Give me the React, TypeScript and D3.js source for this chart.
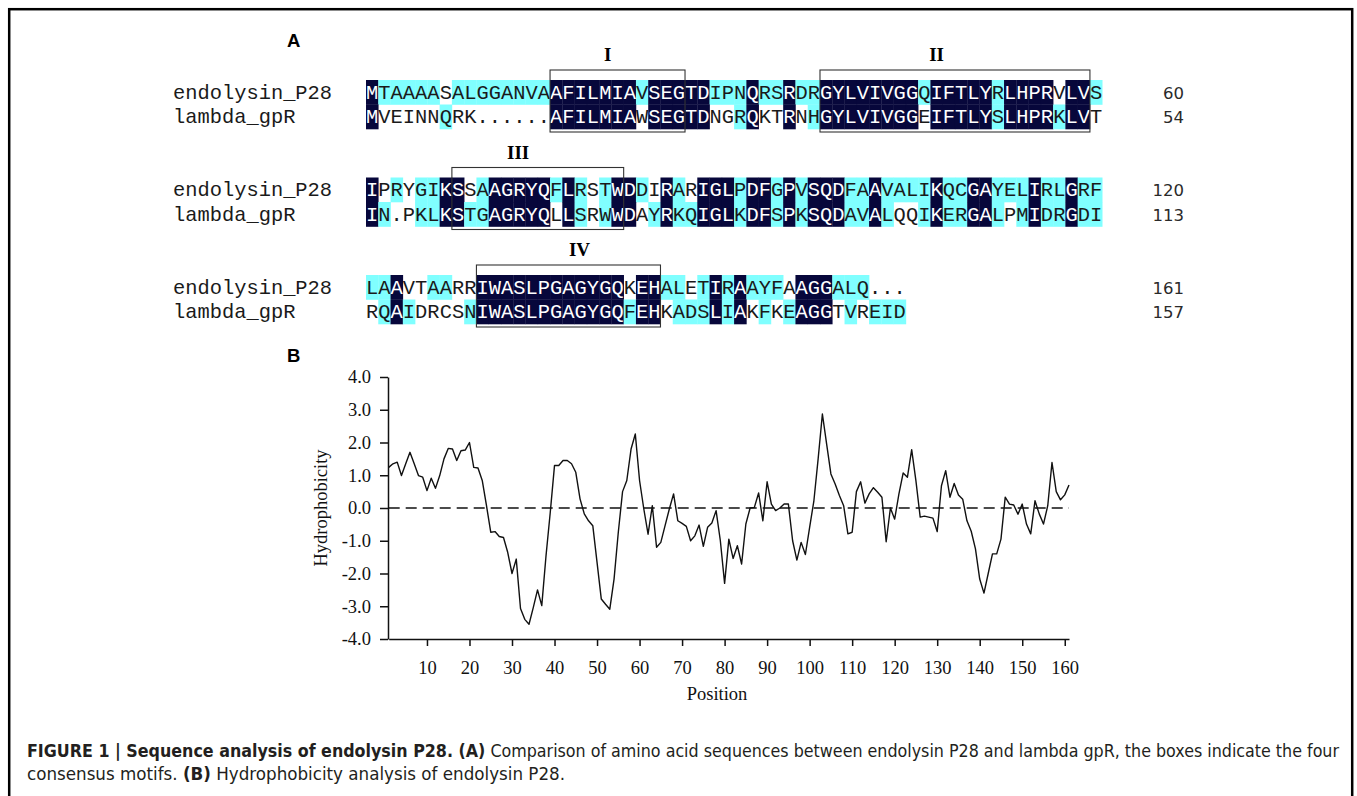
import React, { useEffect, useRef } from 'react';
import * as d3 from 'd3';

// alignment, one string per block (60 columns per block)
const endolysinSeq = [
  'MTAAAASALGGANVAAFILMIAVSEGTDIPNQRSRDRGYLVIVGGQIFTLYRLHPRVLVS',
  'IPRYGIKSSAAGRYQFLRSTWDDIRARIGLPDFGPVSQDFAAVALIKQCGAYELIRLGRF',
  'LAAVTAARRIWASLPGAGYGQKEHALETIRAAYFAAGGALQ...',
];
const lambdaSeq = [
  'MVEINNQRK......AFILMIAWSEGTDNGRQKTRNHGYLVIVGGEIFTLYSLHPRKLVT',
  'IN.PKLKSTGAGRYQLLSRWWDAYRKQIGLKDFSPKSQDAVALQQIKERGALPMIDRGDI',
  'RQAIDRCSNIWASLPGAGYGQFEHKADSLIAKFKEAGGTVREID',
];
// d = identical (dark), c = similar (cyan), w = none
const endolysinShade = [
  'dcccccwccccccccdddddddcdddddcccdccdccddddddddcdddddcddddwddc',
  'dwcwccddwcdddddcdcwcddcwdcwdddcddcdcdddccdccccdccddcccdccdcc',
  'ccdwwccwwddddddddddddwddccwcdcdcccwdddcccwww',
];
const lambdaShade = [
  'dwwwwwcwwwwwwwwdddddddwdddddwwcdwwdwcddddddddwdddddcddddcddw',
  'dcwwccddccdddddwdcwcddwcdccdddcddcdcdddccdcwwcdccddcwcdccdcc',
  'wcdcwwwwcddddddddddddcddwcccdcdwcwcdddwcwccc',
];
const rowNames = ['endolysin_P28', 'lambda_gpR'];
const endolysinEnds = [60, 120, 161];
const lambdaEnds = [54, 113, 157];

const motifs = [
  { label: 'I', block: 0, from: 16, to: 26, labelCol: 19.7 },
  { label: 'II', block: 0, from: 38, to: 59, labelCol: 46.5 },
  { label: 'III', block: 1, from: 8, to: 21, labelCol: 12.4 },
  { label: 'IV', block: 2, from: 10, to: 24, labelCol: 17.4 },
];

// hydrophobicity profile, positions 1..161
const hydrophobicity = [
  1.24, 1.35, 1.4, 0.99, 1.35, 1.7, 1.35, 0.99, 0.94, 0.53,
  0.91, 0.6, 0.99, 1.5, 1.82, 1.8, 1.45, 1.75, 1.77, 2.0,
  1.24, 1.22, 0.84, 0.07, -0.74, -0.72, -0.87, -0.9, -1.36, -2.0,
  -1.56, -3.07, -3.4, -3.55, -3.04, -2.5, -2.98, -1.46, -0.13, 1.3,
  1.3, 1.45, 1.45, 1.35, 1.09, 0.28, -0.18, -0.39, -0.54, -1.66,
  -2.78, -2.94, -3.09, -2.17, -0.74, 0.5, 0.84, 1.8, 2.26, 0.84,
  -0.03, -0.8, 0.07, -1.2, -1.05, -0.54, -0.03, 0.43, -0.39, -0.47,
  -0.56, -1.0, -0.85, -0.52, -1.17, -0.59, -0.46, -0.08, -1.0, -2.3,
  -0.95, -1.54, -1.15, -1.71, -0.49, 0.0, 0.02, 0.46, -0.39, 0.8,
  0.12, -0.08, 0.0, 0.12, 0.12, -1.0, -1.59, -1.05, -1.42, -0.59,
  0.22, 1.5, 2.87, 1.95, 1.04, 0.73, 0.38, 0.07, -0.79, -0.74,
  0.5, 0.8, 0.15, 0.43, 0.62, 0.48, 0.33, -1.03, 0.0, -0.34,
  0.43, 1.07, 0.94, 1.78, 0.83, -0.28, -0.25, -0.28, -0.31, -0.72,
  0.68, 1.14, 0.33, 0.75, 0.4, 0.27, -0.39, -0.71, -1.25, -2.17,
  -2.6, -2.0, -1.4, -1.4, -0.95, 0.33, 0.12, 0.09, -0.19, 0.12,
  -0.49, -0.79, 0.22, -0.18, -0.49, 0.07, 1.39, 0.5, 0.25, 0.4,
  0.7,
];
const xTicks = d3.range(10, 161, 10);
const yTicks = d3.range(-4, 5, 1);

const captionBold = 'FIGURE 1 | Sequence analysis of endolysin P28.';
const captionLine1 = ' Comparison of amino acid sequences between endolysin P28 and lambda gpR, the boxes indicate the four';
const captionLine2 = ' Hydrophobicity analysis of endolysin P28.';

const W = 1357;
const H = 796;
const DARK = '#07073b';
const CYAN = '#80ffff';
const mono = '"Liberation Mono", "Courier New", monospace';
const serif = '"Liberation Serif", "Times New Roman", serif';
const sans = '"Liberation Sans", Arial, sans-serif';

export default function App() {
  const xAxisRef = useRef<SVGGElement>(null);
  const yAxisRef = useRef<SVGGElement>(null);

  const col = d3.scaleLinear().domain([0, 60]).range([366, 366 + 60 * 12.27]);
  const blockTop = d3.scaleLinear().domain([0, 1]).range([80, 177.5]);
  const cellH = 24.5;

  const x = d3.scaleLinear().domain([1, 161]).range([388.7, 1069]);
  const y = d3.scaleLinear().domain([-4, 4]).range([639, 377]);
  const line = d3.line<number>().x((d, i) => x(i + 1)).y(d => y(d));

  useEffect(() => {
    const gx = d3.select(xAxisRef.current);
    gx.call(d3.axisBottom(x).tickValues(xTicks).tickSize(7).tickSizeOuter(0).tickPadding(15).tickFormat(d3.format('d')) as any);
    gx.attr('font-family', serif).attr('font-size', 18.5);
    gx.selectAll('path,line').attr('stroke', '#111').attr('stroke-width', 1.5);
    gx.selectAll('text').attr('fill', '#111');

    const gy = d3.select(yAxisRef.current);
    gy.call(d3.axisLeft(y).tickValues(yTicks).tickSize(8).tickSizeOuter(0).tickPadding(9).tickFormat(v => (+v).toFixed(1)) as any);
    gy.attr('font-family', serif).attr('font-size', 18.5);
    gy.selectAll('path,line').attr('stroke', '#111').attr('stroke-width', 1.5);
    gy.selectAll('text').attr('fill', '#111');
  }, []);

  const seqs = [endolysinSeq, lambdaSeq];
  const shades = [endolysinShade, lambdaShade];
  const ends = [endolysinEnds, lambdaEnds];

  return (
    <svg width={W} height={H} style={{ position: 'absolute', left: 0, top: 0, background: '#fff' }}>
      <rect x={9.2} y={9.2} width={1343} height={820} fill="none" stroke="#000" strokeWidth={2.5} />

      {/* panel A */}
      <text x={287} y={47} fontFamily={sans} fontWeight="bold" fontSize={18.5}>A</text>
      {[0, 1, 2].map(b => (
        <g key={b}>
          {[0, 1].map(r => {
            const top = blockTop(b) + r * cellH;
            const base = top + cellH / 2 + 6.7;
            return (
              <g key={r}>
                {shades[r][b].split('').map((s, i) =>
                  s === 'w' ? null : (
                    <rect key={i} x={col(i)} y={top} width={col(i + 1) - col(i) + 0.3} height={cellH + 0.3}
                      fill={s === 'd' ? DARK : CYAN} />
                  ))}
                {seqs[r][b].split('').map((ch, i) => (
                  <text key={i} x={(col(i) + col(i + 1)) / 2} y={base} textAnchor="middle"
                    fontFamily={mono} fontSize={20.4}
                    fill={shades[r][b][i] === 'd' ? '#fff' : '#1a1a1a'}>{ch}</text>
                ))}
                <text x={173} y={base} fontFamily={mono} fontSize={20.4} fill="#1a1a1a">{rowNames[r]}</text>
                <text x={1184} y={base} textAnchor="end" fontFamily='"DejaVu Sans", Verdana, sans-serif'
                  fontSize={16.5} fill="#2a2a2a">{ends[r][b]}</text>
              </g>
            );
          })}
        </g>
      ))}
      {motifs.map(m => (
        <g key={m.label}>
          <rect x={col(m.from - 1)} y={blockTop(m.block) - 10} width={col(m.to) - col(m.from - 1)} height={62}
            fill="none" stroke="#333" strokeWidth={1.1} />
          <text x={col(m.labelCol)} y={blockTop(m.block) - 19} textAnchor="middle" fontFamily={serif}
            fontWeight="bold" fontSize={19}>{m.label}</text>
        </g>
      ))}

      {/* panel B */}
      <text x={287} y={362} fontFamily={sans} fontWeight="bold" fontSize={18.5}>B</text>
      <line x1={x(1)} x2={x(161)} y1={y(0)} y2={y(0)} stroke="#111" strokeWidth={1.5} strokeDasharray="11 6" />
      <path d={line(hydrophobicity) || ''} fill="none" stroke="#111" strokeWidth={1.4} strokeLinejoin="round" />
      <g ref={xAxisRef} transform={`translate(0,${y(-4)})`} />
      <g ref={yAxisRef} transform={`translate(${388},0)`} />
      <text x={717} y={700} textAnchor="middle" fontFamily={serif} fontSize={18.5} fill="#111">Position</text>
      <text transform={`translate(327,${y(0)}) rotate(-90)`} textAnchor="middle" fontFamily={serif}
        fontSize={18.5} fill="#111">Hydrophobicity</text>

      {/* caption */}
      <text x={27} y={757} fontFamily={'"Liberation Sans Narrow", "DejaVu Sans Condensed", Roboto, sans-serif'}
        fontSize={17.5} fill="#231f20" textLength={1312} lengthAdjust="spacingAndGlyphs">
        <tspan fontWeight="bold">{captionBold} (A)</tspan>
        <tspan>{captionLine1}</tspan>
      </text>
      <text x={27} y={780} fontFamily={'"Liberation Sans Narrow", "DejaVu Sans Condensed", Roboto, sans-serif'}
        fontSize={17.5} fill="#231f20" textLength={538} lengthAdjust="spacingAndGlyphs">
        <tspan>consensus motifs. </tspan>
        <tspan fontWeight="bold">(B)</tspan>
        <tspan>{captionLine2}</tspan>
      </text>
    </svg>
  );
}
